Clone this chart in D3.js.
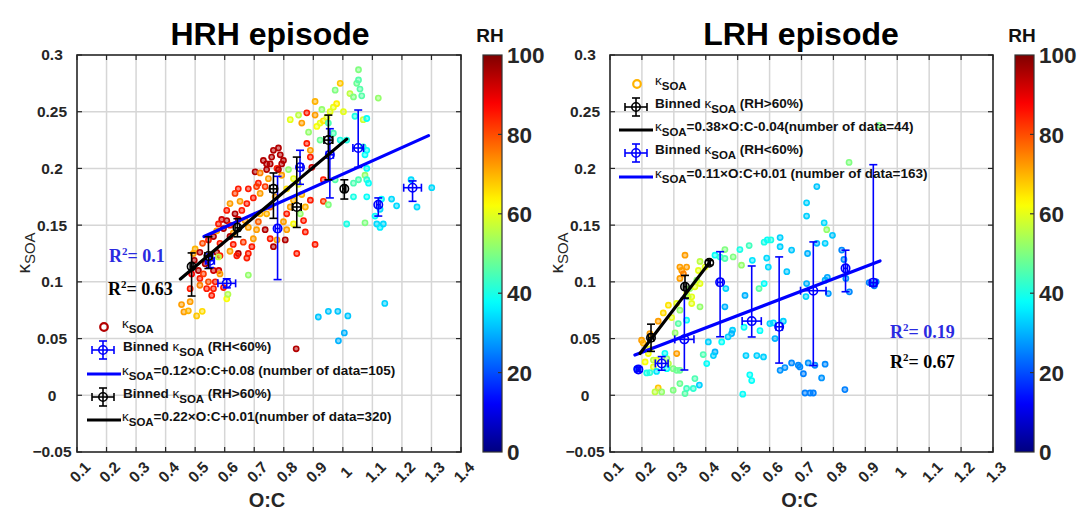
<!DOCTYPE html>
<html><head><meta charset="utf-8">
<script src="https://cdn.jsdelivr.net/npm/d3@7"></script>
<style>body{margin:0;background:#fff}svg{display:block}</style>
</head><body>
<svg id="c" width="1078" height="512"></svg>
<script>
// ---------------- DATA ----------------
const xTicksHRH = [0.1,0.2,0.3,0.4,0.5,0.6,0.7,0.8,0.9,1,1.1,1.2,1.3,1.4];
const xTicksLRH = [0.1,0.2,0.3,0.4,0.5,0.6,0.7,0.8,0.9,1,1.1,1.2,1.3];
const yTicks = [-0.05,0,0.05,0.1,0.15,0.2,0.25,0.3];
const cbTicks = [0,20,40,60,80,100];

// [O:C, kappaSOA, RH]
const hrhPoints = [
[0.454,0.080,72],[0.462,0.0735,72],[0.477,0.0745,70],[0.483,0.0825,72],[0.505,0.070,68],[0.524,0.074,66],
[0.483,0.094,85],[0.488,0.107,88],[0.494,0.125,72],[0.500,0.129,70],[0.497,0.119,95],[0.511,0.110,95],
[0.516,0.103,85],[0.528,0.107,82],[0.516,0.097,75],[0.539,0.094,85],[0.545,0.100,80],[0.534,0.116,95],
[0.562,0.110,92],[0.568,0.100,85],[0.562,0.094,85],[0.580,0.110,92],[0.573,0.126,95],[0.584,0.123,85],
[0.516,0.126,95],[0.525,0.134,80],[0.545,0.137,85],[0.562,0.140,95],[0.584,0.134,85],[0.596,0.147,95],
[0.607,0.154,95],[0.618,0.150,85],[0.629,0.143,72],[0.635,0.160,95],[0.646,0.155,92],[0.646,0.182,85],
[0.652,0.171,72],[0.658,0.163,85],[0.675,0.169,85],[0.669,0.154,72],[0.680,0.148,72],[0.663,0.135,82],
[0.646,0.125,95],[0.675,0.121,85],[0.680,0.125,85],[0.692,0.131,85],[0.697,0.138,72],[0.708,0.146,72],
[0.714,0.153,78],[0.720,0.160,70],[0.697,0.174,85],[0.703,0.197,95],[0.714,0.187,85],[0.720,0.178,72],
[0.737,0.184,82],[0.742,0.199,95],[0.748,0.191,72],[0.754,0.204,95],[0.759,0.210,95],[0.765,0.216,95],
[0.782,0.218,95],[0.788,0.212,95],[0.793,0.204,95],[0.777,0.200,85],[0.793,0.194,72],[0.771,0.175,72],
[0.754,0.166,78],[0.742,0.160,70],[0.737,0.146,95],[0.754,0.138,85],[0.765,0.131,95],[0.777,0.137,72],
[0.805,0.137,95],[0.810,0.146,72],[0.799,0.153,72],[0.810,0.160,85],[0.822,0.166,72],[0.833,0.172,70],
[0.833,0.151,62],[0.810,0.182,65],[0.816,0.199,52],[0.833,0.191,60],[0.850,0.186,60],[0.861,0.177,70],
[0.873,0.166,70],[0.867,0.154,85],[0.873,0.144,85],[0.844,0.125,85],[0.906,0.133,85],[0.890,0.172,85],
[0.856,0.160,52],[0.878,0.222,85],[0.890,0.216,72],[0.890,0.210,85],[0.895,0.201,92],[0.878,0.249,85],
[0.861,0.240,72],[0.850,0.247,56],[0.822,0.243,60],[0.906,0.247,72],[0.906,0.259,70],[0.912,0.237,62],
[0.884,0.232,52],[0.923,0.225,48],[0.923,0.240,60],[0.934,0.242,65],[0.946,0.245,60],[0.957,0.250,60],
[0.968,0.254,60],[0.979,0.257,64],[0.991,0.275,68],[0.974,0.269,50],[1.002,0.250,60],[0.929,0.252,52],
[0.951,0.240,45],[0.968,0.231,45],[0.991,0.225,40],[1.013,0.225,40],[0.934,0.190,85],[0.934,0.171,82],
[0.951,0.168,50],[0.974,0.190,46],[1.024,0.266,56],[1.036,0.263,50],[1.047,0.275,48],[1.053,0.287,50],
[1.053,0.278,46],[1.058,0.270,46],[1.064,0.264,46],[1.041,0.246,40],[1.069,0.243,58],[1.081,0.244,38],
[1.069,0.219,42],[1.081,0.216,38],[1.075,0.212,38],[1.081,0.200,38],[1.075,0.194,52],[1.081,0.190,42],
[1.087,0.187,38],[1.053,0.190,45],[1.036,0.187,45],[1.036,0.175,40],[1.081,0.175,38],[1.120,0.262,52],
[1.013,0.151,40],[1.075,0.152,50],[1.109,0.158,38],[1.115,0.151,34],[1.126,0.148,36],[1.137,0.151,34],
[1.131,0.173,37],[1.126,0.164,34],[1.165,0.173,34],[1.182,0.167,34],[1.231,0.190,34],[1.251,0.166,34],
[1.301,0.183,34],[1.142,0.081,33],[0.917,0.069,32],[0.951,0.074,32],[0.983,0.074,32],[1.017,0.070,32],
[1.005,0.055,30],[0.985,0.048,30],[0.842,0.041,95],[0.607,0.085,62],[0.611,0.089,55],[0.680,0.106,52],
[0.579,0.122,56],[0.731,0.207,95],[0.742,0.204,95],[0.782,0.199,95],[0.799,0.207,95],[0.720,0.196,75],
[0.708,0.184,82],[0.680,0.182,85],[0.635,0.178,82],[0.618,0.169,72],[0.607,0.163,85],[0.590,0.155,92],
[0.579,0.151,85],[0.573,0.145,72],[0.618,0.140,95],[0.629,0.133,85],[0.618,0.127,72],[0.641,0.123,85],
[0.584,0.107,72],[0.596,0.095,85],[0.556,0.088,85]
];

const lrhPoints = [
[0.199,0.0485,72],[0.204,0.046,70],[0.225,0.0544,72],[0.251,0.0653,72],[0.267,0.0726,66],[0.283,0.0794,65],
[0.319,0.103,72],[0.325,0.110,72],[0.335,0.1235,72],[0.330,0.107,75],[0.340,0.113,72],[0.319,0.113,72],
[0.309,0.0368,72],[0.251,0.0065,68],[0.210,0.0294,62],[0.220,0.0368,62],[0.225,0.041,60],[0.236,0.031,56],
[0.246,0.031,60],[0.236,0.025,60],[0.278,0.0324,52],[0.283,0.028,56],[0.298,0.0235,50],[0.309,0.022,48],
[0.319,0.022,48],[0.304,0.055,52],[0.293,0.0685,60],[0.309,0.0809,60],[0.319,0.075,52],[0.340,0.0897,60],
[0.345,0.0868,52],[0.356,0.0868,60],[0.356,0.0809,60],[0.350,0.0941,52],[0.366,0.0956,60],[0.372,0.1015,52],
[0.382,0.0985,60],[0.377,0.110,60],[0.382,0.118,56],[0.398,0.113,60],[0.382,0.078,52],[0.241,0.003,56],
[0.262,0.003,52],[0.298,0.0045,50],[0.319,0.0103,48],[0.335,0.0015,46],[0.340,0.006,44],[0.361,0.006,42],
[0.366,0.0147,45],[0.380,0.009,33],[0.225,0.020,42],[0.215,0.0197,40],[0.246,0.021,35],[0.272,0.037,38],
[0.278,0.0235,38],[0.340,0.0662,38],[0.314,0.0632,46],[0.392,0.0359,45],[0.408,0.047,33],[0.403,0.028,38],
[0.429,0.0382,30],[0.424,0.035,33],[0.429,0.1235,38],[0.445,0.122,42],[0.460,0.1285,50],[0.460,0.1206,45],
[0.486,0.122,50],[0.507,0.1285,40],[0.536,0.132,44],[0.512,0.1147,52],[0.546,0.119,35],[0.567,0.0941,46],
[0.583,0.135,40],[0.593,0.137,38],[0.604,0.137,40],[0.591,0.121,34],[0.596,0.113,34],[0.583,0.0985,38],
[0.633,0.139,33],[0.633,0.131,33],[0.654,0.109,32],[0.669,0.128,32],[0.463,0.0941,33],[0.460,0.078,30],
[0.450,0.047,38],[0.484,0.0574,33],[0.481,0.0544,30],[0.470,0.0515,33],[0.523,0.088,30],[0.520,0.060,38],
[0.526,0.035,33],[0.538,0.018,38],[0.544,0.013,38],[0.516,0.001,38],[0.560,0.035,33],[0.581,0.0338,33],
[0.570,0.057,38],[0.601,0.0632,34],[0.612,0.0638,34],[0.617,0.050,30],[0.643,0.0653,33],[0.633,0.022,27],
[0.648,0.0244,27],[0.669,0.0285,26],[0.690,0.0265,26],[0.695,0.025,26],[0.706,0.019,25],[0.711,0.002,25],
[0.727,0.002,25],[0.737,0.002,25],[0.721,0.0285,27],[0.742,0.0265,26],[0.763,0.0153,27],[0.774,0.0274,26],
[0.836,0.005,25],[0.716,0.1697,33],[0.716,0.158,33],[0.748,0.184,32],[0.719,0.125,30],[0.716,0.0985,30],
[0.714,0.087,33],[0.748,0.134,30],[0.774,0.134,33],[0.771,0.152,34],[0.779,0.146,52],[0.797,0.141,32],
[0.774,0.1015,30],[0.781,0.104,29],[0.784,0.0897,28],[0.826,0.128,26],[0.833,0.1197,26],[0.839,0.103,26],
[0.850,0.0912,26],[0.849,0.2053,50],[0.944,0.238,50],[0.912,0.0994,25],[0.928,0.0965,25],[0.934,0.100,25],
[0.189,0.0235,22],[0.184,0.0235,20]
];

// binned: [O:C, kappa, xErr, yErrLow, yErrHigh]
const hrhBinLow = [
[0.550,0.1186,0.015,0.006,0.006],[0.607,0.0987,0.03,0.004,0.004],[0.779,0.147,0.008,0.045,0.046],
[0.855,0.201,0.010,0.015,0.015],[0.956,0.212,0.012,0.038,0.023],[1.052,0.218,0.018,0.017,0.0335],
[1.120,0.168,0.006,0.010,0.006],[1.236,0.183,0.030,0.012,0.006]
];
const hrhBinHigh = [
[0.488,0.1135,0.005,0.026,0.012],[0.545,0.1228,0.012,0.011,0.017],[0.643,0.1477,0.008,0.008,0.008],
[0.765,0.182,0.012,0.026,0.014],[0.844,0.166,0.015,0.018,0.044],[0.951,0.225,0.015,0.035,0.022],
[1.005,0.182,0.005,0.009,0.008]
];
const lrhBinHigh = [
[0.2285,0.0507,0.008,0.012,0.012],[0.335,0.0957,0.005,0.010,0.010],[0.411,0.1168,0.003,0.002,0.002]
];
const lrhBinLow = [
[0.189,0.0228,0.005,0.002,0.002],[0.262,0.0281,0.020,0.006,0.006],[0.333,0.0493,0.030,0.027,0.036],
[0.445,0.0996,0.008,0.048,0.027],[0.544,0.0654,0.030,0.014,0.0486],[0.630,0.0604,0.010,0.032,0.0616],
[0.737,0.0922,0.040,0.066,0.043],[0.838,0.1119,0.006,0.0206,0.016],[0.925,0.0993,0.010,0.003,0.104]
];
// fits: [slope, intercept, xStart, xEnd]
const hrhFitLow = [0.117,0.078,0.53,1.29];
const hrhFitHigh = [0.219,0.004,0.45,1.013];
const lrhFitHigh = [0.368,-0.0345,0.194,0.411];
const lrhFitLow = [0.108,0.0163,0.178,0.946];

// ---------------- DRAW ----------------
const svg = d3.select('#c');
const BLUE = '#0000ff', BLACK = '#000000';
const jet = t => {
  const c = v => Math.max(0, Math.min(1, v));
  const r = c(1.5 - Math.abs(4*t-3)), g = c(1.5 - Math.abs(4*t-2)), b = c(1.5 - Math.abs(4*t-1));
  return d3.rgb(r*255, g*255, b*255).toString();
};
const rhColor = rh => jet(rh/100);
const SANS = 'Liberation Sans, Arial, sans-serif';
const SERIF = 'Liberation Serif, Times New Roman, serif';

const defs = svg.append('defs');
const grad = defs.append('linearGradient').attr('id','jetg').attr('x1',0).attr('y1',1).attr('x2',0).attr('y2',0);
d3.range(0,101,2).forEach(v => grad.append('stop').attr('offset', v+'%').attr('stop-color', jet(v/100)));

function kappaText(sel, x, y, pieces, size) {
  const t = sel.append('text').attr('x', x).attr('y', y).attr('font-family', SANS)
    .attr('font-size', size).attr('font-weight','bold').attr('fill','#111');
  let sub = false;
  pieces.forEach(([s, type]) => {
    const ts = t.append('tspan').text(s);
    if (type === 'k') { ts.attr('font-weight','normal').attr('font-size', size*1.0); if (sub) { ts.attr('dy', -4); sub=false; } }
    else if (type === 's') { ts.attr('font-size', size*0.85).attr('dy', 5); sub = true; }
    else { if (sub) { ts.attr('dy', -5); sub = false; } }
  });
  return t;
}

function errbar(g, x, y, d, color, cap) {
  const [oc, k, xe, yl, yh] = d;
  const cx = x(oc), cy = y(k);
  const gg = g.append('g').attr('stroke', color).attr('stroke-width', 1.6).attr('fill','none');
  gg.append('line').attr('x1',cx).attr('x2',cx).attr('y1',y(k-yl)).attr('y2',y(k+yh));
  gg.append('line').attr('x1',cx-cap).attr('x2',cx+cap).attr('y1',y(k-yl)).attr('y2',y(k-yl));
  gg.append('line').attr('x1',cx-cap).attr('x2',cx+cap).attr('y1',y(k+yh)).attr('y2',y(k+yh));
  gg.append('line').attr('x1',x(oc-xe)).attr('x2',x(oc+xe)).attr('y1',cy).attr('y2',cy);
  gg.append('line').attr('x1',x(oc-xe)).attr('x2',x(oc-xe)).attr('y1',cy-cap).attr('y2',cy+cap);
  gg.append('line').attr('x1',x(oc+xe)).attr('x2',x(oc+xe)).attr('y1',cy-cap).attr('y2',cy+cap);
  gg.append('circle').attr('cx',cx).attr('cy',cy).attr('r',4.2);
}

function legendErr(g, cx, cy, color) {
  const gg = g.append('g').attr('stroke', color).attr('stroke-width', 1.6).attr('fill','none');
  gg.append('line').attr('x1',cx).attr('x2',cx).attr('y1',cy-9).attr('y2',cy+9);
  gg.append('line').attr('x1',cx-4).attr('x2',cx+4).attr('y1',cy-9).attr('y2',cy-9);
  gg.append('line').attr('x1',cx-4).attr('x2',cx+4).attr('y1',cy+9).attr('y2',cy+9);
  gg.append('line').attr('x1',cx-11).attr('x2',cx+11).attr('y1',cy).attr('y2',cy);
  gg.append('line').attr('x1',cx-11).attr('x2',cx-11).attr('y1',cy-4).attr('y2',cy+4);
  gg.append('line').attr('x1',cx+11).attr('x2',cx+11).attr('y1',cy-4).attr('y2',cy+4);
  gg.append('circle').attr('cx',cx).attr('cy',cy).attr('r',4.2);
}

function panel(cfg) {
  const x = d3.scaleLinear().domain(cfg.xDomain).range([cfg.left, cfg.right]);
  const y = d3.scaleLinear().domain([-0.05, 0.3]).range([452, 55]);
  const g = svg.append('g');
  // grid
  g.append('g').selectAll('line').data(cfg.xTicks.slice(1,-1)).join('line')
    .attr('x1', d=>x(d)).attr('x2', d=>x(d)).attr('y1',55).attr('y2',452)
    .attr('stroke','#d6d6d6').attr('stroke-width',1.5);
  g.append('g').selectAll('line').data(yTicks.slice(1,-1)).join('line')
    .attr('y1', d=>y(d)).attr('y2', d=>y(d)).attr('x1',cfg.left).attr('x2',cfg.right)
    .attr('stroke','#d6d6d6').attr('stroke-width',1.5);
  // scatter
  g.append('g').selectAll('circle').data(cfg.points).join('circle')
    .attr('cx', d=>x(d[0])).attr('cy', d=>y(d[1])).attr('r', 2.6)
    .attr('fill', d=>rhColor(d[2])).attr('fill-opacity',0.5)
    .attr('stroke', d=>rhColor(d[2])).attr('stroke-width',1.6);
  // binned and fits
  cfg.layers.forEach(L => {
    if (L.type === 'bin') L.data.forEach(d => errbar(g, x, y, d, L.color, 4));
    else {
      const [m, b, x0, x1] = L.data;
      g.append('line').attr('x1',x(x0)).attr('x2',x(x1)).attr('y1',y(m*x0+b)).attr('y2',y(m*x1+b))
        .attr('stroke', L.color).attr('stroke-width', 3.2).attr('stroke-linecap','round');
    }
  });
  // frame
  g.append('rect').attr('x',cfg.left).attr('y',55).attr('width',cfg.right-cfg.left).attr('height',397)
    .attr('fill','none').attr('stroke','#262626').attr('stroke-width',1.6);
  // ticks inward
  const tk = g.append('g').attr('stroke','#262626').attr('stroke-width',1.2);
  cfg.xTicks.forEach(t => {
    tk.append('line').attr('x1',x(t)).attr('x2',x(t)).attr('y1',452).attr('y2',447);
    tk.append('line').attr('x1',x(t)).attr('x2',x(t)).attr('y1',55).attr('y2',60);
  });
  yTicks.forEach(t => {
    tk.append('line').attr('x1',cfg.left).attr('x2',cfg.left+5).attr('y1',y(t)).attr('y2',y(t));
    tk.append('line').attr('x1',cfg.right).attr('x2',cfg.right-5).attr('y1',y(t)).attr('y2',y(t));
  });
  // tick labels
  g.append('g').selectAll('text').data(yTicks).join('text')
    .attr('x', cfg.left-25).attr('y', d=>y(d)).attr('dy','0.35em').attr('text-anchor','middle')
    .attr('font-family',SANS).attr('font-weight','bold').attr('font-size',15.5).attr('fill','#262626')
    .text(d => d3.format('')(+d.toFixed(2)));
  g.append('g').selectAll('text').data(cfg.xTicks).join('text')
    .attr('transform', d=>`translate(${x(d)+3},${472}) rotate(-45)`).attr('dy','0.35em').attr('text-anchor','middle')
    .attr('font-family',SANS).attr('font-weight','bold').attr('font-size',15.5).attr('fill','#262626')
    .text(d => d3.format('')(+d.toFixed(1)));
  // axis labels
  g.append('text').attr('x',(cfg.left+cfg.right)/2 - 2).attr('y',507).attr('text-anchor','middle')
    .attr('font-family',SANS).attr('font-weight','bold').attr('font-size',20).attr('fill','#262626').text('O:C');
  const yl = g.append('text').attr('transform',`translate(${cfg.left-47},253) rotate(-90)`).attr('text-anchor','middle')
    .attr('font-family',SANS).attr('font-size',19).attr('fill','#262626');
  yl.append('tspan').text('κ');
  yl.append('tspan').text('SOA').attr('font-size',15).attr('dy',5);
  // title
  g.append('text').attr('x',cfg.titleX).attr('y',45).attr('text-anchor','middle')
    .attr('font-family',SANS).attr('font-weight','bold').attr('font-size',32).attr('fill','#000').text(cfg.title);
  // legend
  cfg.legend.forEach(e => {
    if (e.kind === 'circle') g.append('circle').attr('cx',e.mx).attr('cy',e.y).attr('r',3.8)
      .attr('fill','none').attr('stroke',e.color).attr('stroke-width',2.2);
    else if (e.kind === 'err') legendErr(g, e.mx, e.y, e.color);
    else g.append('line').attr('x1',e.mx-17).attr('x2',e.mx+17).attr('y1',e.y).attr('y2',e.y)
      .attr('stroke',e.color).attr('stroke-width',3.2);
    kappaText(g, e.tx, e.y+1, e.pieces, 13.5);
  });
  // R2
  cfg.r2.forEach(r => {
    const t = g.append('text').attr('x',r.x).attr('y',r.y).attr('font-family',SERIF).attr('font-weight','bold')
      .attr('font-size',18).attr('fill',r.color);
    t.append('tspan').text('R');
    t.append('tspan').text('2').attr('font-size',11).attr('dy',-7);
    t.append('tspan').text('= ' + r.v).attr('dy',7);
  });
  // colorbar
  const cy = d3.scaleLinear().domain([0,100]).range([452,55]);
  g.append('rect').attr('x',cfg.cbX).attr('y',55).attr('width',19).attr('height',397).attr('fill','url(#jetg)')
    .attr('stroke','#333').attr('stroke-width',1.2);
  cbTicks.forEach(t => {
    if (t>0 && t<100) g.append('line').attr('x1',cfg.cbX+19).attr('x2',cfg.cbX+15).attr('y1',cy(t)).attr('y2',cy(t))
      .attr('stroke','#333').attr('stroke-width',1.2);
    g.append('text').attr('x',cfg.cbX+24).attr('y',cy(t)).attr('dy','0.36em').attr('font-family',SANS)
      .attr('font-weight','bold').attr('font-size',22.5).attr('fill','#262626').text(t);
  });
  g.append('text').attr('x',cfg.cbX+7).attr('y',42).attr('text-anchor','middle').attr('font-family',SANS)
    .attr('font-weight','bold').attr('font-size',19).attr('fill','#111').text('RH');
}

const K = [['κ','k'],['SOA','s']];
panel({
  title:'HRH episode', titleX:270, left:77, right:461, xDomain:[0.1,1.4], xTicks:xTicksHRH, points:hrhPoints, cbX:483,
  layers:[{type:'bin',data:hrhBinLow,color:BLUE},{type:'fit',data:hrhFitLow,color:BLUE},
          {type:'bin',data:hrhBinHigh,color:BLACK},{type:'fit',data:hrhFitHigh,color:BLACK}],
  legend:[
    {kind:'circle', color:rhColor(95), mx:104, tx:122, y:327, pieces:K},
    {kind:'err', color:BLUE, mx:103, tx:123, y:350, pieces:[['Binned ','t'],...K,[' (RH<60%)','t']]},
    {kind:'line', color:BLUE, mx:104, tx:122, y:374, pieces:[...K,['=0.12×O:C+0.08 (number of data=105)','t']]},
    {kind:'err', color:BLACK, mx:103, tx:123, y:397, pieces:[['Binned ','t'],...K,[' (RH>60%)','t']]},
    {kind:'line', color:BLACK, mx:104, tx:122, y:420, pieces:[...K,['=0.22×O:C+0.01(number of data=320)','t']]}
  ],
  r2:[{x:109,y:262,v:'0.1',color:'#2a2ae0'},{x:108,y:295,v:'0.63',color:'#000'}]
});
panel({
  title:'LRH episode', titleX:801, left:610, right:993, xDomain:[0.1,1.3], xTicks:xTicksLRH, points:lrhPoints, cbX:1015,
  layers:[{type:'bin',data:lrhBinLow,color:BLUE},{type:'fit',data:lrhFitLow,color:BLUE},
          {type:'bin',data:lrhBinHigh,color:BLACK},{type:'fit',data:lrhFitHigh,color:BLACK}],
  legend:[
    {kind:'circle', color:rhColor(70), mx:637, tx:655, y:84, pieces:K},
    {kind:'err', color:BLACK, mx:636, tx:655, y:107, pieces:[['Binned ','t'],...K,[' (RH>60%)','t']]},
    {kind:'line', color:BLACK, mx:636, tx:655, y:130, pieces:[...K,['=0.38×O:C-0.04(number of data=44)','t']]},
    {kind:'err', color:BLUE, mx:636, tx:655, y:153, pieces:[['Binned ','t'],...K,[' (RH<60%)','t']]},
    {kind:'line', color:BLUE, mx:636, tx:655, y:177, pieces:[...K,['=0.11×O:C+0.01 (number of data=163)','t']]}
  ],
  r2:[{x:890,y:338,v:'0.19',color:'#2a2ae0'},{x:890,y:368,v:'0.67',color:'#000'}]
});
</script>
</body></html>
